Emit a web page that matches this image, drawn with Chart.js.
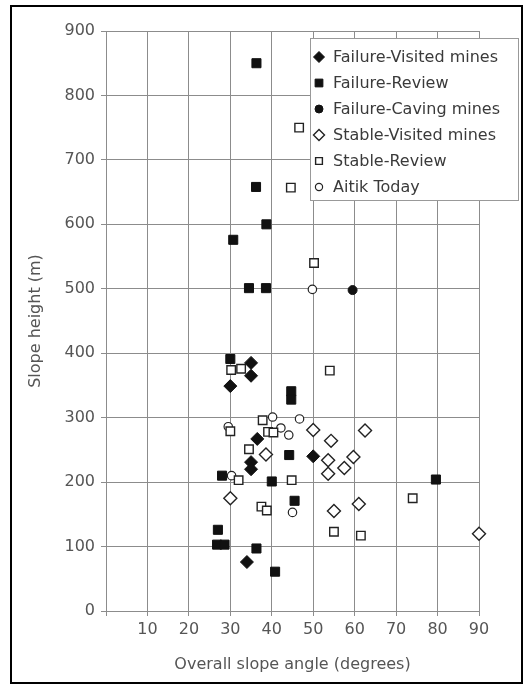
<!DOCTYPE html>
<html>
<head>
<meta charset="utf-8">
<script src="https://cdn.jsdelivr.net/npm/chart.js@4/dist/chart.umd.min.js"></script>
<style>
  html, body { margin: 0; padding: 0; background: #fff; }
  canvas { display: block; }
</style>
</head>
<body>
<canvas id="chart" width="530" height="688"></canvas>
<script>
// values (angle in degrees, height in m)
const seriesNames = ['Failure-Visited mines', 'Failure-Review', 'Failure-Caving mines',
                     'Stable-Visited mines', 'Stable-Review', 'Aitik Today'];

const failVisitedX = [35, 35, 30, 36.5, 35, 35, 50, 34];
const failVisitedY = [385, 365, 349, 267, 231, 220, 240, 76];

const failReviewX = [36.3, 36.2, 38.7, 30.7, 34.5, 38.6, 30, 44.7, 44.7, 44.2, 28, 40, 45.5, 27, 26.8, 28.6, 36.3, 40.8, 79.6];
const failReviewY = [850, 658, 600, 576, 501, 501, 391, 341, 328, 242, 210, 201, 171, 126, 103, 103, 97, 61, 204];

const failCavingX = [59.5];
const failCavingY = [498];

const stableVisitedX = [30, 38.6, 50, 54.3, 53.6, 53.6, 57.5, 59.7, 62.5, 55, 61, 90];
const stableVisitedY = [175, 243, 281, 264, 234, 213, 222, 239, 280, 155, 166, 120];

const stableReviewX = [46.6, 44.6, 50.2, 54, 30.2, 32.6, 30, 37.8, 39.1, 40.4, 34.5, 32, 44.8, 37.5, 38.8, 55, 61.5, 74];
const stableReviewY = [750, 657, 540, 373, 374, 376, 279, 296, 278, 277, 251, 203, 203, 162, 156, 123, 117, 175];

const aitikX = [49.8, 40.2, 46.7, 42.2, 44.1, 29.5, 45, 30.3];
const aitikY = [499, 301, 298, 284, 273, 286, 153, 210];

const xTicks = [0, 10, 20, 30, 40, 50, 60, 70, 80, 90];
const yTicks = [0, 100, 200, 300, 400, 500, 600, 700, 800, 900];

const FONT = 'DejaVu Sans';
const GRID = '#8c8c8c';

const pts = (xs, ys) => xs.map((x, i) => ({ x, y: ys[i] }));

const markers = [
    { style: 'rectRot', r: 6.5, fill: '#111', stroke: '#111', lw: 1, lr: 5.5 },
    { style: 'rect', r: 6.4, fill: '#111', stroke: '#111', lw: 1, lr: 5.5 },
    { style: 'circle', r: 4.5, fill: '#111', stroke: '#111', lw: 1, lr: 4 },
    { style: 'rectRot', r: 6.5, fill: '#fff', stroke: '#222', lw: 1.4, lr: 5.5 },
    { style: 'rect', r: 6, fill: '#fff', stroke: '#222', lw: 1.4, lr: 4.8 },
    { style: 'circle', r: 4.2, fill: '#fff', stroke: '#222', lw: 1.2, lr: 3.6 }
];

const allData = [
    pts(failVisitedX, failVisitedY),
    pts(failReviewX, failReviewY),
    pts(failCavingX, failCavingY),
    pts(stableVisitedX, stableVisitedY),
    pts(stableReviewX, stableReviewY),
    pts(aitikX, aitikY)
];

// same shapes as chart.js draws them, for the legend
function drawMarker(ctx, m, x, y, r) {
    ctx.beginPath();
    if (m.style === 'circle') {
        ctx.arc(x, y, r, 0, Math.PI * 2);
    } else if (m.style === 'rect') {
        const s = Math.SQRT1_2 * r;
        ctx.rect(x - s, y - s, 2 * s, 2 * s);
    } else {
        ctx.moveTo(x - r, y);
        ctx.lineTo(x, y - r);
        ctx.lineTo(x + r, y);
        ctx.lineTo(x, y + r);
        ctx.closePath();
    }
    ctx.fillStyle = m.fill;
    ctx.fill();
    ctx.lineWidth = m.lw;
    ctx.strokeStyle = m.stroke;
    ctx.stroke();
}

const legendAndFrame = {
    id: 'legendAndFrame',
    afterDraw(chart) {
        const ctx = chart.ctx;
        ctx.save();
        // legend box, overlapping the plot on the right
        ctx.fillStyle = '#fff';
        ctx.fillRect(310.5, 38.5, 208, 162);
        ctx.strokeStyle = '#999';
        ctx.lineWidth = 1;
        ctx.strokeRect(310.5, 38.5, 208, 162);
        ctx.font = '16px "' + FONT + '"';
        ctx.textBaseline = 'middle';
        seriesNames.forEach((name, i) => {
            const y = 57 + i * 26;
            drawMarker(ctx, markers[i], 319, y, markers[i].lr);
            ctx.fillStyle = '#3a3a3a';
            ctx.fillText(name, 333, y + 1);
        });
        // outer frame of the figure
        ctx.strokeStyle = '#000';
        ctx.lineWidth = 2;
        ctx.strokeRect(11, 6, 511, 677);
        ctx.restore();
    }
};

new Chart(document.getElementById('chart').getContext('2d'), {
    type: 'scatter',
    data: {
        datasets: allData.map((d, i) => ({
            label: seriesNames[i],
            data: d,
            pointStyle: markers[i].style,
            pointRadius: markers[i].r,
            pointHoverRadius: markers[i].r,
            backgroundColor: markers[i].fill,
            borderColor: markers[i].stroke,
            pointBorderWidth: markers[i].lw,
            clip: false
        }))
    },
    options: {
        responsive: false,
        animation: false,
        layout: { padding: { left: 0, right: 51, top: 31, bottom: 0 } },
        plugins: { legend: { display: false }, tooltip: { enabled: false } },
        scales: {
            x: {
                type: 'linear',
                min: 0,
                max: 90,
                afterBuildTicks: s => { s.ticks = xTicks.map(v => ({ value: v })); },
                afterFit: s => { s.height = 77; },
                ticks: {
                    callback: v => v === 0 ? '' : v,
                    color: '#555',
                    padding: 4,
                    maxRotation: 0,
                    autoSkip: false,
                    font: { family: FONT, size: 16 }
                },
                grid: { color: GRID, tickLength: 5, lineWidth: 1 },
                border: { color: GRID },
                title: {
                    display: true,
                    text: 'Overall slope angle (degrees)',
                    color: '#555',
                    padding: { top: 0, bottom: 14 },
                    font: { family: FONT, size: 16 }
                }
            },
            y: {
                min: 0,
                max: 900,
                afterBuildTicks: s => { s.ticks = yTicks.map(v => ({ value: v })); },
                afterFit: s => { s.width = 106; },
                ticks: {
                    color: '#555',
                    padding: 6,
                    autoSkip: false,
                    font: { family: FONT, size: 16 }
                },
                grid: { color: GRID, tickLength: 5, lineWidth: 1 },
                border: { color: GRID },
                title: {
                    display: true,
                    text: 'Slope height (m)',
                    color: '#555',
                    padding: { top: 26, bottom: 0 },
                    font: { family: FONT, size: 16 }
                }
            }
        }
    },
    plugins: [legendAndFrame]
});
</script>
</body>
</html>
